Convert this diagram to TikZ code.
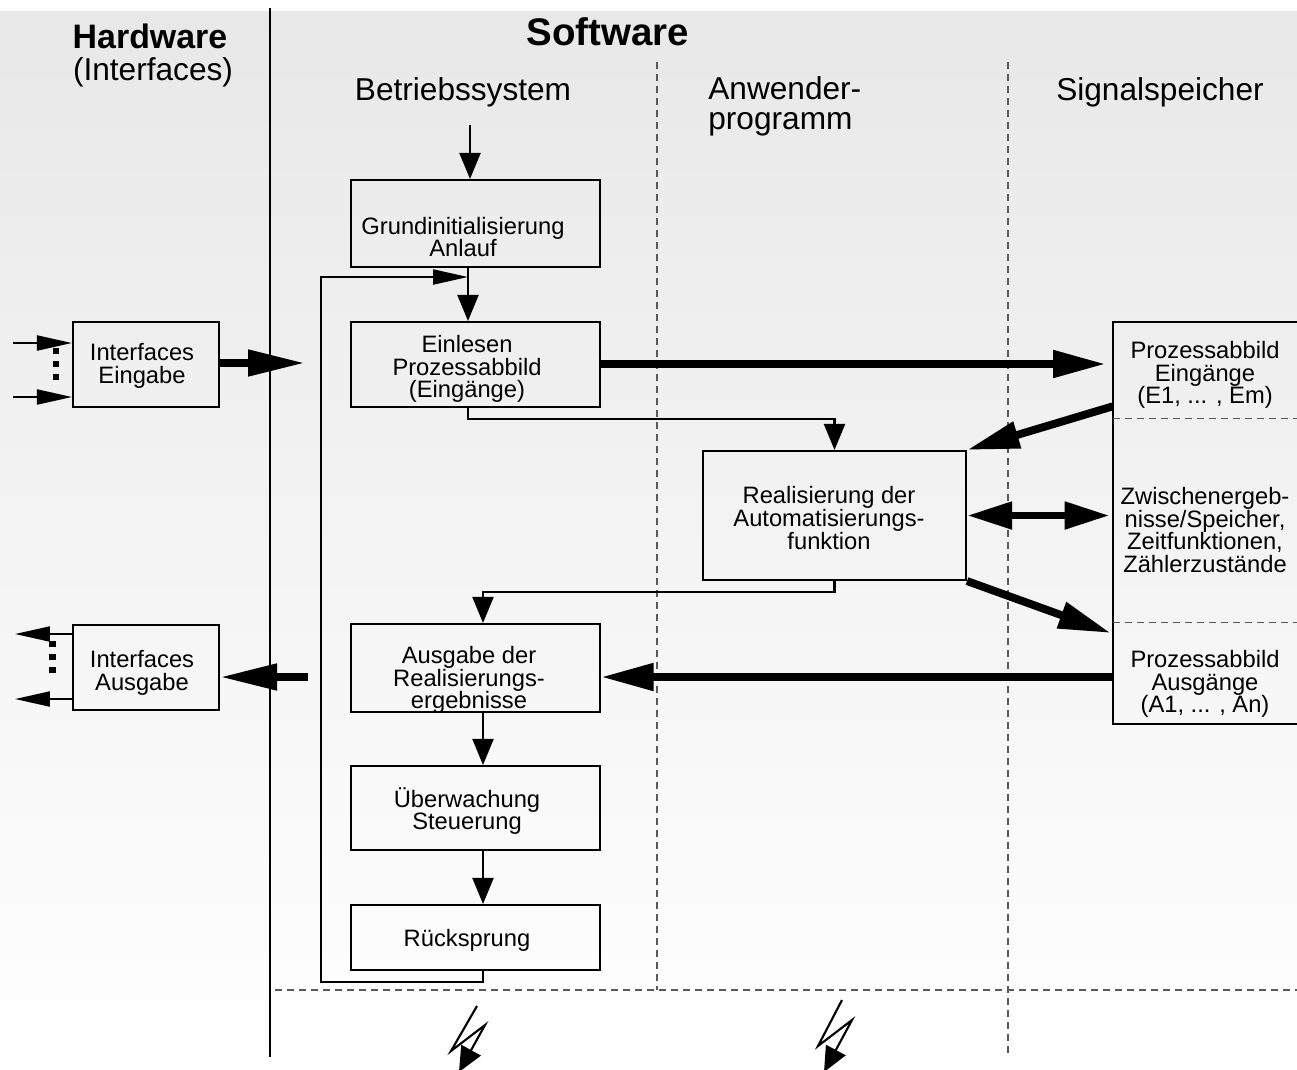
\documentclass[tikz,border=0pt]{standalone}
\usepackage{fontspec}
\setmainfont{Liberation Sans}
\usetikzlibrary{arrows.meta,calc}
\tikzset{
  boxnode/.style={draw, line width=1.2pt, inner sep=0pt},
  txt/.style={font=\fontsize{13.5}{13}\selectfont, align=center, inner sep=0pt},
  head/.style={font=\fontsize{18}{17}\selectfont, inner sep=0pt},
  thinline/.style={line width=1.2pt},
  varr/.style={thinline, -{Triangle[length=0.52cm,width=0.42cm]}},
  harr/.style={thinline, -{Triangle[length=0.7cm,width=0.3cm]}},
  bigarr/.style={line width=4.5pt, -{Triangle[length=1.05cm,width=0.52cm]}},
  bigdarr/.style={line width=4.5pt, {Triangle[length=0.9cm,width=0.52cm]}-{Triangle[length=0.9cm,width=0.52cm]}},
  hwarr/.style={line width=4.5pt, -{Triangle[length=1.14cm,width=0.5cm]}},
  dashline/.style={black!65, line width=0.7pt, dash pattern=on 0.14cm off 0.1cm},
  bolt/.style={line width=1.2pt, -{Triangle[length=0.5cm,width=0.44cm]}},
}
\begin{document}
\begin{tikzpicture}[x=0.02cm,y=-0.02cm]
\useasboundingbox (0,0) rectangle (1297,1069);
\shade[top color=black!9, bottom color=white] (0,11) rectangle (1297,1069);

% column separators
\draw[line width=1.2pt] (270,8) -- (270,1057);
\draw[dashline] (657,62) -- (657,990);
\draw[dashline] (1008,62) -- (1008,1057);
\draw[dashline] (275,990) -- (1297,990);

% headers
\node[font=\fontsize{19.3}{20}\selectfont\bfseries, inner sep=0pt] (hwT) at (150,36) {Hardware};
\node[head] (hwT2) at (153,72) {(Interfaces)};
\node[font=\fontsize{21.9}{22}\selectfont\bfseries, inner sep=0pt] (swT) at (608,32) {Software};
\node[head] (bsT) at (463,92) {Betriebssystem};
\node[head, align=left, anchor=west] (awT) at (708,106) {Anwender-\\programm};
\node[head] (ssT) at (1160,92) {Signalspeicher};

% boxes
\node[boxnode, minimum width=4.98cm, minimum height=1.74cm] (grund) at (475.5,223.5) {};
\node[boxnode, minimum width=4.98cm, minimum height=1.70cm] (einl) at (475.5,364.5) {};
\node[boxnode, minimum width=5.26cm, minimum height=2.58cm] (real) at (834.5,515.5) {};
\node[boxnode, minimum width=4.98cm, minimum height=1.76cm] (ausg) at (475.5,668) {};
\node[boxnode, minimum width=4.98cm, minimum height=1.68cm] (ueber) at (475.5,808) {};
\node[boxnode, minimum width=4.98cm, minimum height=1.30cm] (rueck) at (475.5,937.5) {};
\node[boxnode, minimum width=2.92cm, minimum height=1.70cm] (ie) at (146,364.5) {};
\node[boxnode, minimum width=2.92cm, minimum height=1.70cm] (ia) at (146,667.5) {};

% signal memory sections
\node[minimum width=3.68cm, minimum height=1.92cm, inner sep=0pt] (pe) at (1205,370) {};
\node[minimum width=3.68cm, minimum height=4.10cm, inner sep=0pt] (zw) at (1205,520.5) {};
\node[minimum width=3.68cm, minimum height=2.02cm, inner sep=0pt] (pa) at (1205,673.5) {};
\draw[line width=1.2pt] (pe.north east) -- (pe.north west) -- (pa.south west) -- (pa.south east);
\draw[dashline] (pe.south west) -- (pe.south east);
\draw[dashline] (pa.north west) -- (pa.north east);

% texts
\node[txt] (grundT) at (463,237) {Grundinitialisierung\\Anlauf};
\node[txt] (einlT) at (467,369) {Einlesen\\Prozessabbild\\(Eingänge)};
\node[txt] (realT) at (829,518) {Realisierung der\\Automatisierungs-\\funktion};
\node[txt] (ausgT) at (469,680) {Ausgabe der\\Realisierungs-\\ergebnisse};
\node[txt] (ueberT) at (467,811) {Überwachung\\Steuerung};
\node[txt] (rueckT) at (467,940) {Rücksprung};
\node[txt] (ieT) at (142,366) {Interfaces\\Eingabe};
\node[txt] (iaT) at (142,673) {Interfaces\\Ausgabe};
\node[txt] (peT) at (1205,375) {Prozessabbild\\Eingänge\\(E1, ... , Em)};
\node[txt] (zwT) at (1205,530) {Zwischenergeb-\\nisse/Speicher,\\Zeitfunktionen,\\Zählerzustände};
\node[txt] (paT) at (1205,684) {Prozessabbild\\Ausgänge\\(A1, ... , An)};

% thin flow connectors
\coordinate (start) at (470,125);
\coordinate (cA) at (468,0);
\coordinate (cB) at (483,0);
\coordinate (loopL) at (321,982);
\coordinate (loopT) at (321,277);
\draw[varr] (start) -- (start |- grund.north);
\draw[varr] (grund.south -| cA) -- (einl.north -| cA);
\draw[harr] (rueck.south -| cB) -- (loopL -| cB) -- (loopL) -- (loopT) -- (loopT -| cA);
\draw[varr] (einl.south -| cA) -- ++(0,11) -| (real.north);
\draw[varr] (real.south) -- ++(0,11) -| (ausg.north -| cB);
\draw[varr] (ausg.south -| cB) -- (ueber.north -| cB);
\draw[varr] (ueber.south -| cB) -- (rueck.north -| cB);

% thick data connectors
\coordinate (hwIn) at (305,363);
\coordinate (swOut) at (308,677);
\draw[hwarr] (ie.east |- hwIn) -- (hwIn);
\draw[hwarr] (swOut) -- (swOut -| ia.east);
\coordinate (lE) at (0,364);
\draw[bigarr, shorten >=7*0.02cm] (einl.east |- lE) -- (pe.west |- lE);
\draw[bigarr] ($(pe.south west)+(0,-12)$) -- (real.north east);
\draw[bigdarr, shorten >=0.06cm] (real.east) -- (real.east -| zw.west);
\draw[bigarr, shorten >=0.04cm] (real.south east) -- ($(pa.north west)+(0,11)$);
\coordinate (lA) at (0,677);
\draw[bigarr] (pa.west |- lA) -- (ausg.east |- lA);

% interface inputs/outputs
\coordinate (in1) at (13,343);
\coordinate (in2) at (13,397);
\coordinate (out1) at (15,634);
\coordinate (out2) at (15,699);
\draw[harr] (in1) -- (in1 -| ie.west);
\draw[harr] (in2) -- (in2 -| ie.west);
\draw[harr] (out1 -| ia.west) -- (out1);
\draw[harr] (out2 -| ia.west) -- (out2);
\foreach \yy in {351,364,377} \fill (53,\yy-3) rectangle (59,\yy+3);
\foreach \yy in {644,657,670} \fill (49,\yy-3) rectangle (56,\yy+3);

% lightning symbols
\draw[bolt] (477,1006) -- (451,1051) -- (485,1025) -- (459,1072);
\draw[bolt] (842,1000) -- (818,1046) -- (852,1020) -- (824,1072);
\end{tikzpicture}
\end{document}
